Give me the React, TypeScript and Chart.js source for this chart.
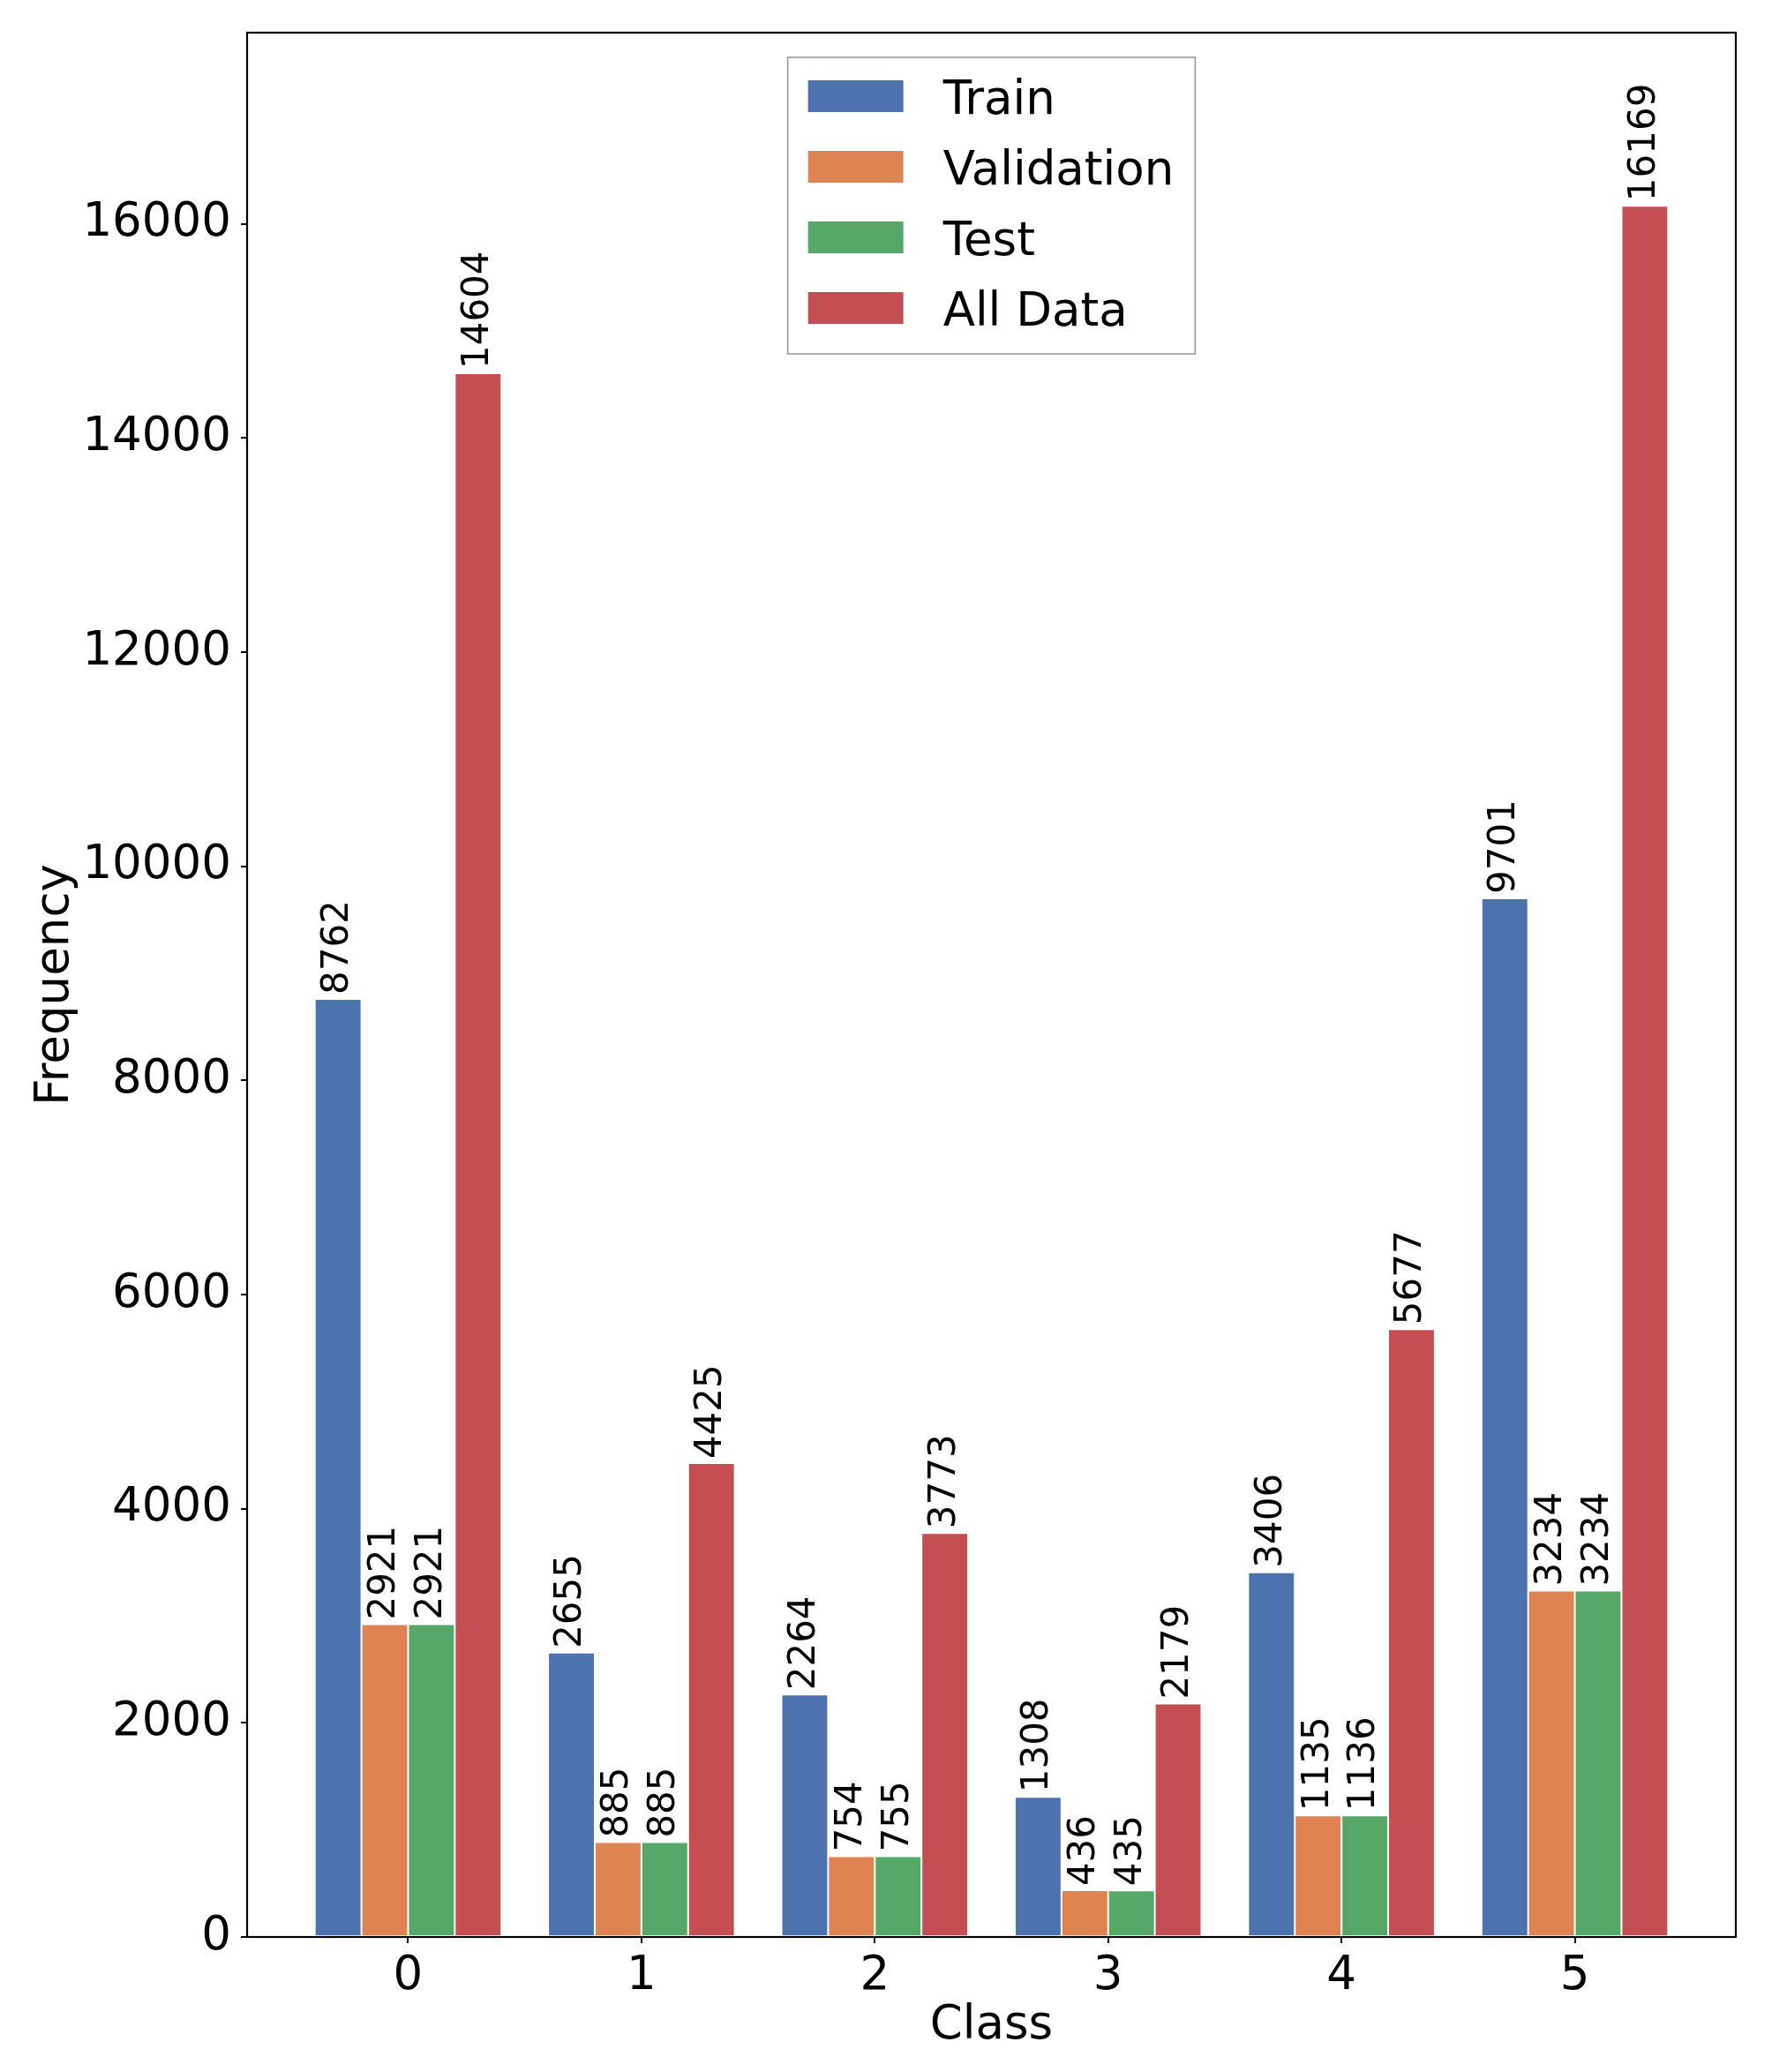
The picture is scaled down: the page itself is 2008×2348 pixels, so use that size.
import { useEffect, useRef } from "react";
import { Chart, registerables } from "chart.js";

Chart.register(...registerables);

const classes = ["0", "1", "2", "3", "4", "5"];
const train = [8762, 2655, 2264, 1308, 3406, 9701];
const validation = [2921, 885, 754, 436, 1135, 3234];
const test = [2921, 885, 755, 435, 1136, 3234];
const allData = [14604, 4425, 3773, 2179, 5677, 16169];
const seriesNames = ["Train", "Validation", "Test", "All Data"];
const seriesColors = ["#4C72B0", "#DD8452", "#55A868", "#C44E52"];
const yTicks = [0, 2000, 4000, 6000, 8000, 10000, 12000, 14000, 16000];

const FONT = "'DejaVu Sans', sans-serif";

// spines on all four sides, drawn over the bars like matplotlib does
const framePlugin = {
  id: "frame",
  afterDatasetsDraw(chart: any) {
    const { ctx, chartArea: a } = chart;
    ctx.save();
    ctx.strokeStyle = "#000";
    ctx.lineWidth = 2.2;
    ctx.strokeRect(a.left, a.top, a.right - a.left, a.bottom - a.top);
    ctx.restore();
  },
};

const valueLabels = {
  id: "valueLabels",
  afterDatasetsDraw(chart: any) {
    const { ctx } = chart;
    ctx.save();
    ctx.fillStyle = "#000";
    ctx.font = `42px ${FONT}`;
    ctx.textAlign = "left";
    ctx.textBaseline = "middle";
    chart.data.datasets.forEach((ds: any, di: number) => {
      chart.getDatasetMeta(di).data.forEach((bar: any, i: number) => {
        ctx.save();
        ctx.translate(bar.x, bar.y - 5);
        ctx.rotate(-Math.PI / 2);
        ctx.fillText(String(ds.data[i].y), 0, 0);
        ctx.restore();
      });
    });
    ctx.restore();
  },
};

const boxLegend = {
  id: "boxLegend",
  afterDraw(chart: any) {
    const { ctx, chartArea: a } = chart;
    const sets = chart.data.datasets;
    ctx.save();
    ctx.font = `53px ${FONT}`;
    const textW = Math.max(...sets.map((d: any) => ctx.measureText(d.label).width));
    const w = 176 + textW + 24;
    const h = 336;
    const left = (a.left + a.right) / 2 - w / 2;
    const top = a.top + 28;
    ctx.fillStyle = "rgba(255,255,255,0.8)";
    ctx.fillRect(left, top, w, h);
    ctx.strokeStyle = "#999";
    ctx.lineWidth = 1.6;
    ctx.strokeRect(left, top, w, h);
    sets.forEach((d: any, i: number) => {
      const cy = top + 44 + i * 80;
      ctx.fillStyle = d.backgroundColor;
      ctx.fillRect(left + 23, cy - 18, 108, 36);
      ctx.fillStyle = "#000";
      ctx.textBaseline = "alphabetic";
      ctx.textAlign = "left";
      ctx.fillText(d.label, left + 176, cy + 20);
    });
    ctx.restore();
  },
};

export default function App() {
  const canvasRef = useRef<HTMLCanvasElement>(null);

  useEffect(() => {
    if (!canvasRef.current) return;
    const series = [train, validation, test, allData];
    const top = Math.max(...series.flat()) * 1.1;
    const chart = new Chart(canvasRef.current, {
      type: "bar",
      data: {
        datasets: series.map((vals, k) => ({
          label: seriesNames[k],
          data: vals.map((v, i) => ({ x: i, y: v })),
          backgroundColor: seriesColors[k],
          borderColor: "#ffffff",
          borderWidth: 1,
          borderSkipped: false,
          categoryPercentage: 0.8,
          barPercentage: 1,
        })),
      },
      options: {
        responsive: false,
        animation: false,
        devicePixelRatio: 1,
        layout: { padding: { top: 37, right: 41, left: 0, bottom: 0 } },
        plugins: { legend: { display: false }, tooltip: { enabled: false } },
        scales: {
          x: {
            type: "linear",
            min: -0.69,
            max: classes.length - 1 + 0.69,
            offset: false,
            afterBuildTicks: (s: any) => {
              s.ticks = classes.map((_, i) => ({ value: i }));
            },
            afterFit: (s: any) => {
              s.height = 153;
              s.paddingLeft = 0;
              s.paddingRight = 0;
            },
            grid: { display: true, drawOnChartArea: false, drawTicks: true, tickLength: 7, color: "#000", lineWidth: 2, offset: false },
            border: { display: false },
            ticks: {
              color: "#000",
              font: { family: FONT, size: 53 },
              padding: 6,
              maxRotation: 0,
              callback: (v: any) => classes[v] ?? "",
            },
            title: { display: true, text: "Class", color: "#000", font: { family: FONT, size: 53 }, padding: { top: 0, bottom: 20 } },
          },
          y: {
            min: 0,
            max: top,
            afterBuildTicks: (s: any) => {
              s.ticks = yTicks.map((v) => ({ value: v }));
            },
            afterFit: (s: any) => {
              s.width = 280;
              s.paddingTop = 0;
              s.paddingBottom = 0;
            },
            grid: { display: true, drawOnChartArea: false, drawTicks: true, tickLength: 7, color: "#000", lineWidth: 2 },
            border: { display: false },
            ticks: {
              color: "#000",
              font: { family: FONT, size: 53 },
              padding: 11,
              callback: (v: any) => String(v),
            },
            title: { display: true, text: "Frequency", color: "#000", font: { family: FONT, size: 53 }, padding: { top: 31, bottom: 0 } },
          },
        },
      },
      plugins: [framePlugin, valueLabels, boxLegend],
    } as any);
    return () => chart.destroy();
  }, []);

  return (
    <div style={{ position: "fixed", left: 0, top: 0, width: 2008, height: 2348, background: "#fff" }}>
      <canvas ref={canvasRef} width={2008} height={2348} style={{ display: "block" }} />
    </div>
  );
}
